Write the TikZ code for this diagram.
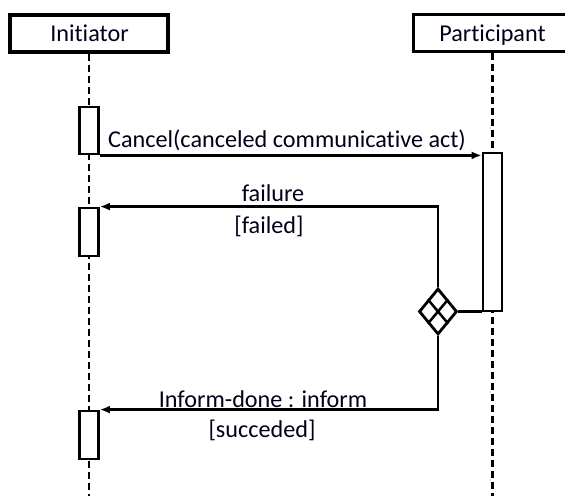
\documentclass[tikz,border=0pt]{standalone}
\usepackage{fontspec}
\setmainfont{Carlito}[Ligatures=NoCommon]
\usetikzlibrary{arrows.meta,shapes.geometric}

\begin{document}
\begin{tikzpicture}[x=1pt,y=-1pt,
  every node/.style={font=\fontsize{24.2}{28}\selectfont, text=black!90!blue},
  head/.style={draw, line width=3.2pt, fill=white, minimum width=158pt,
               minimum height=37pt, inner sep=0pt},
  lifeline/.style={line width=2.6pt, dash pattern=on 7pt off 4pt},
  actbox/.style={draw, line width=2.8pt, fill=white, minimum width=19pt,
                 inner sep=0pt},
  msg/.style={line width=2.3pt, -{Latex[length=10pt,width=8pt]}},
  link/.style={line width=2.5pt},
  choice/.style={draw, diamond, line width=2.8pt, fill=white, inner sep=0pt,
                 minimum width=38pt, minimum height=46pt},
  lbl/.style={anchor=base, inner sep=0pt}
]
\useasboundingbox (0,0) rectangle (565,496);

% lifeline heads
\node[head] (ini) at (89,33.5) {};
\node[head] (par) at (492.5,33) {};
\node[lbl] (iniText) at (89.5,41) {Initiator};
\node[lbl] (parText) at (492.5,41) {Participant};

% lifelines
\coordinate (bottom) at (0,496);
\draw[lifeline] (ini.south) -- (ini.south |- bottom);
\draw[lifeline] (par.south) -- (par.south |- bottom);

% activation bars
\node[actbox, minimum height=47pt] (a1) at (89,130.5) {};
\node[actbox, minimum height=48pt] (a2) at (89,232) {};
\node[actbox, minimum height=48pt] (a3) at (89,435) {};
\node[actbox, minimum height=158pt] (p1) at (492.5,232) {};

% decision with crossed diamond
\node[choice] (d) at (438,311.5) {};
\draw[line width=2.5pt] (d.north west) -- (d.south east)
                        (d.north east) -- (d.south west);

% messages
\draw[msg] (a1.south east) -- (a1.south east -| p1.west);
\node[lbl] (cancelText) at (287,147) {Cancel(canceled communicative act)};

\draw[link] (d.east) -- (d.east -| p1.west);

\draw[msg] (d.north) |- (a2.north east);
\node[lbl] (failText) at (273,201) {failure};
\node[lbl] (failGuard) at (269,233) {[failed]};

\draw[msg] (d.south) |- (a3.north east);
\node[lbl] (doneText) at (263,407) {Inform-done : inform};
\node[lbl] (doneGuard) at (262,437) {[succeded]};
\end{tikzpicture}
\end{document}
